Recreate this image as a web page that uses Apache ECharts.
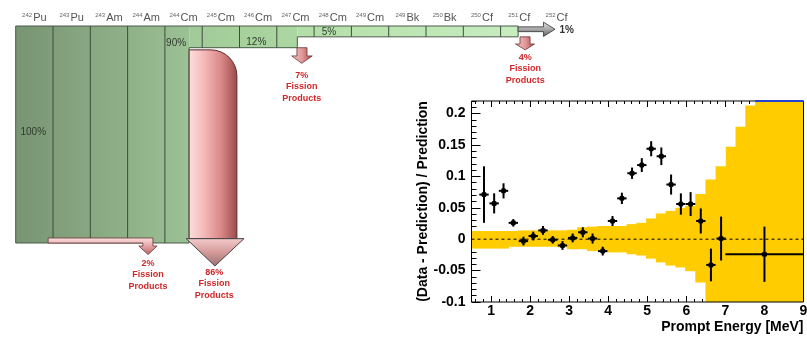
<!DOCTYPE html>
<html>
<head>
<meta charset="utf-8">
<title>Actinide chain / prompt energy residuals</title>
<script src="https://cdn.jsdelivr.net/npm/echarts@6.0.0/dist/echarts.min.js"></script>
<style>
  html, body { margin: 0; padding: 0; background: #fff; }
  #chart { width: 807px; height: 337px; }
</style>
</head>
<body>
<div id="chart"></div>
<script>
// --- left panel: transmutation chain ---
const nuclideMass = ['242', '243', '243', '244', '244', '245', '246', '247', '248', '249', '249', '250', '250', '251', '252'];
const nuclideElem = ['Pu', 'Pu', 'Am', 'Am', 'Cm', 'Cm', 'Cm', 'Cm', 'Cm', 'Cm', 'Bk', 'Bk', 'Cf', 'Cf', 'Cf'];

// flow through the chain: column span and height (% of feed)
const flowFrom = [0, 4.65, 7.55];
const flowTo = [4.65, 7.55, 13.47];
const flowPct = [100, 10, 5];

const flowLabels = ['100%', '90%', '12%', '5%'];
const fissionLabels = ['2%', '86%', '7%', '4%'];
const passLabel = '1%';

// --- right panel: (data - prediction) / prediction ---
const energy = [0.82, 1.08, 1.32, 1.57, 1.83, 2.08, 2.33, 2.58, 2.83, 3.09, 3.35, 3.60, 3.86,
  4.11, 4.35, 4.61, 4.86, 5.10, 5.36, 5.61, 5.86, 6.11, 6.37, 6.63, 6.89, 8.0];
const energyErr = [0.12, 0.12, 0.12, 0.12, 0.12, 0.12, 0.12, 0.12, 0.12, 0.12, 0.12, 0.12, 0.12,
  0.12, 0.12, 0.12, 0.12, 0.12, 0.12, 0.12, 0.12, 0.12, 0.12, 0.12, 0.12, 1.0];
const ratio = [0.071, 0.057, 0.077, 0.026, -0.003, 0.005, 0.014, -0.001, -0.010, 0.002, 0.011, 0.001, -0.019,
  0.029, 0.065, 0.105, 0.118, 0.144, 0.132, 0.087, 0.056, 0.056, 0.029, -0.041, 0.001, -0.024];
const ratioErr = [0.045, 0.016, 0.012, 0.006, 0.007, 0.007, 0.007, 0.006, 0.007, 0.007, 0.008, 0.008, 0.007,
  0.008, 0.009, 0.009, 0.011, 0.012, 0.014, 0.016, 0.017, 0.019, 0.020, 0.026, 0.035, 0.044];

// systematic band, one step per bin
const bandEdge = [0.5, 0.95, 1.2, 1.45, 1.7, 1.95, 2.2, 2.45, 2.7, 2.96, 3.22, 3.47, 3.73, 3.98, 4.23,
  4.48, 4.73, 4.98, 5.23, 5.48, 5.73, 5.98, 6.24, 6.5, 6.76, 7.02, 7.27, 7.52, 7.77, 9.0];
const bandHigh = [0.013, 0.013, 0.013, 0.013, 0.014, 0.014, 0.014, 0.014, 0.014, 0.015, 0.019, 0.020, 0.021, 0.021,
  0.021, 0.024, 0.026, 0.033, 0.041, 0.045, 0.050, 0.053, 0.072, 0.095, 0.116, 0.147, 0.179, 0.213, 0.22];
const bandLow = [-0.015, -0.015, -0.015, -0.012, -0.012, -0.012, -0.012, -0.012, -0.013, -0.016, -0.016, -0.019, -0.019, -0.021,
  -0.021, -0.024, -0.026, -0.031, -0.037, -0.042, -0.045, -0.051, -0.069, -0.1, -0.1, -0.1, -0.1, -0.1, -0.1];

const xMajor = [1, 2, 3, 4, 5, 6, 7, 8, 9];
const yMajor = [-0.1, -0.05, 0, 0.05, 0.1, 0.15, 0.2];
const xMinor = [];
for (let k = 3; k < 45; k++) if (k % 5 !== 0) xMinor.push(k / 5);
const yMinor = [];
for (let k = -10; k <= 22; k++) if (k % 5 !== 0) yMinor.push(k / 100);

const FONT = '"Liberation Sans", Arial, Helvetica, sans-serif';
const RED = '#d0282a';

// where annotations sit on the left grid (column / percent units)
const flowLabelPos = [[0.47, 49], [4.3, 7.8], [6.45, 7.4], [8.4, 2.8]];
const arrowLayout = [
  { kind: 'run', x0: 0.87, x1: 3.41, x2: 3.68, y0: 97.7, y1: 100, headY: 101.4, hx0: 3.30, hx1: 3.79, tipX: 3.55, tipY: 105.3, lx: 3.55, ly: 106.6 },
  { kind: 'big', x0: 4.65, x1: 5.93, y0: 11, headY: 98, hx0: 4.57, hx1: 6.12, tipX: 5.34, tipY: 110.6, lx: 5.32, ly: 110.8 },
  { kind: 'drop', x0: 7.54, x1: 7.81, y0: 10, headY: 13.8, hx0: 7.40, hx1: 7.95, tipX: 7.67, tipY: 17.2, lx: 7.67, ly: 20 },
  { kind: 'drop', x0: 13.52, x1: 13.79, y0: 5, headY: 8.3, hx0: 13.40, hx1: 13.91, tipX: 13.66, tipY: 11, lx: 13.66, ly: 11.8 }
];
const passLayout = { x0: 13.47, x1: 14.15, y0: 0.4, y1: 2.6, h0: -1.8, h1: 4.8, tipX: 14.46, tipY: 1.5, lx: 14.5 };
const flowShades = [['#789473', '#9cc195'], ['#a0ca97', '#acd7a2'], ['#b2dea8', '#c8edbf']];

function grad(x2, y2, colors) {
  return new echarts.graphic.LinearGradient(0, 0, x2, y2,
    colors.map((c, i) => ({ offset: i / (colors.length - 1), color: c })));
}

function renderFlow(params, api) {
  const i = params.dataIndex;
  const a = api.coord([flowFrom[i], 0]);
  const b = api.coord([flowTo[i], flowPct[i]]);
  return {
    type: 'rect',
    shape: { x: a[0], y: a[1], width: b[0] - a[0], height: b[1] - a[1] },
    style: { fill: grad(1, 0, flowShades[i]) }
  };
}

function renderOutline(params, api) {
  const n = flowPct.length;
  const pts = [api.coord([flowFrom[0], 0]), api.coord([flowTo[n - 1], 0])];
  for (let k = n - 1; k >= 0; k--) {
    pts.push(api.coord([flowTo[k], flowPct[k]]));
    pts.push(api.coord([flowFrom[k], flowPct[k]]));
  }
  const children = [{ type: 'polygon', shape: { points: pts }, style: { fill: 'none', stroke: '#4b5a48', lineWidth: 1 } }];
  for (let c = 1; c < nuclideMass.length; c++) {
    const k = flowFrom.findIndex((f, j) => c >= f && c < flowTo[j]);
    if (k < 0) continue;
    const t = api.coord([c, 0]), b = api.coord([c, flowPct[k]]);
    children.push({ type: 'line', shape: { x1: t[0], y1: t[1], x2: b[0], y2: b[1] }, style: { stroke: '#3f4c3d', lineWidth: 1 } });
  }
  flowLabels.forEach((txt, i) => {
    const p = api.coord(flowLabelPos[i]);
    children.push({
      type: 'text', x: p[0], y: p[1],
      style: { text: txt, align: 'center', verticalAlign: 'middle', fill: '#2f3a2e', font: '10px ' + FONT }
    });
  });
  return { type: 'group', children };
}

function renderFission(params, api) {
  const L = arrowLayout[params.dataIndex];
  const P = (c, p) => api.coord([c, p]);
  const children = [];
  if (L.kind === 'big') {
    const a = P(L.x0, L.y0), b = P(L.x1, L.headY);
    children.push({
      type: 'rect',
      shape: { x: a[0], y: a[1], width: b[0] - a[0], height: b[1] - a[1], r: [0, 26, 0, 0] },
      style: { fill: grad(1, 0, ['#fde0e0', '#f4b6b6', '#d98888', '#9c4848']), stroke: '#5a2c2c', lineWidth: 1 }
    });
    children.push({
      type: 'polygon',
      shape: { points: [P(L.hx0, L.headY), P(L.hx1, L.headY), P(L.tipX, L.tipY)] },
      style: { fill: grad(0, 1, ['#f4cccc', '#d49a9a', '#9a7070']), stroke: '#444', lineWidth: 1 }
    });
  } else if (L.kind === 'run') {
    children.push({
      type: 'polygon',
      shape: { points: [P(L.x0, L.y0), P(L.x2, L.y0), P(L.x2, L.headY), P(L.hx1, L.headY), P(L.tipX, L.tipY),
        P(L.hx0, L.headY), P(L.x1, L.headY), P(L.x1, L.y1), P(L.x0, L.y1)] },
      style: { fill: grad(0, 1, ['#fbe2e2', '#e3a3a3', '#b86666']), stroke: '#6b3333', lineWidth: 0.8 }
    });
  } else {
    children.push({
      type: 'polygon',
      shape: { points: [P(L.x0, L.y0), P(L.x1, L.y0), P(L.x1, L.headY), P(L.hx1, L.headY), P(L.tipX, L.tipY),
        P(L.hx0, L.headY), P(L.x0, L.headY)] },
      style: { fill: grad(1, 0, ['#f6c4c4', '#e29a9a', '#a04c4c']), stroke: '#6b3333', lineWidth: 0.8 }
    });
  }
  const lp = P(L.lx, L.ly);
  children.push({
    type: 'text', x: lp[0], y: lp[1],
    style: { text: fissionLabels[params.dataIndex] + '\nFission\nProducts', align: 'center', verticalAlign: 'top',
      fill: RED, font: 'bold 9px ' + FONT, lineHeight: 11.5 }
  });
  return { type: 'group', children };
}

function renderPass(params, api) {
  const L = passLayout;
  const P = (c, p) => api.coord([c, p]);
  const lp = P(L.lx, L.tipY);
  return {
    type: 'group',
    children: [
      {
        type: 'polygon',
        shape: { points: [P(L.x0, L.y0), P(L.x1, L.y0), P(L.x1, L.h0), P(L.tipX, L.tipY), P(L.x1, L.h1), P(L.x1, L.y1), P(L.x0, L.y1)] },
        style: { fill: grad(0, 1, ['#e4e4e4', '#a8a8a8', '#5e5e5e']), stroke: '#333', lineWidth: 0.8 }
      },
      {
        type: 'text', x: lp[0] + 3, y: lp[1] + 1,
        style: { text: passLabel, align: 'left', verticalAlign: 'middle', fill: '#333', font: 'bold 10px ' + FONT }
      }
    ]
  };
}

// one yellow step per bin, widened a hair so neighbouring steps leave no seam
function renderBand(params, api) {
  const a = api.coord([api.value(0), api.value(3)]);
  const b = api.coord([api.value(1), api.value(2)]);
  return {
    type: 'rect',
    shape: { x: a[0] - 0.4, y: a[1], width: b[0] - a[0] + 0.8, height: b[1] - a[1] },
    style: { fill: '#ffcc00' }
  };
}

function renderCross(params, api) {
  const x = api.value(0), y = api.value(1), xe = api.value(2), ye = api.value(3);
  const c = api.coord([x, y]);
  const t = api.coord([x, y + ye]), b = api.coord([x, y - ye]);
  const l = api.coord([x - xe, y]), r = api.coord([x + xe, y]);
  return {
    type: 'group',
    children: [
      { type: 'line', shape: { x1: c[0], y1: t[1], x2: c[0], y2: b[1] }, style: { stroke: '#000', lineWidth: 2 } },
      { type: 'line', shape: { x1: l[0], y1: c[1], x2: r[0], y2: c[1] }, style: { stroke: '#000', lineWidth: 2 } },
      { type: 'rect', shape: { x: c[0] - 2.5, y: c[1] - 2.5, width: 5, height: 5, r: 1.5 }, style: { fill: '#000' } }
    ]
  };
}

const tickStyle = { color: '#000', width: 1 };
const axisX = (extra) => Object.assign({
  gridIndex: 1, type: 'value', min: 0.5, max: 9,
  splitLine: { show: false }, axisLine: { show: false, onZero: false }, axisLabel: { show: false }
}, extra);
const axisY = (extra) => Object.assign({
  gridIndex: 1, type: 'value', min: -0.1, max: 0.22,
  splitLine: { show: false }, axisLine: { show: false, onZero: false }, axisLabel: { show: false }, axisTick: { show: false }
}, extra);

const chart = echarts.init(document.getElementById('chart'));
chart.setOption({
  animation: false,
  textStyle: { fontFamily: FONT },
  grid: [
    { left: 15.7, top: 26, width: 559.5, height: 217, outerBoundsMode: 'none' },
    { left: 471.5, top: 101, right: 3.5, bottom: 35, outerBoundsMode: 'none',
      show: true, borderColor: '#000', borderWidth: 1, backgroundColor: 'transparent', z: 5 }
  ],
  xAxis: [
    { gridIndex: 0, type: 'value', min: 0, max: 15, show: false },
    {
      gridIndex: 0, type: 'category', position: 'top',
      data: nuclideMass.map((m, i) => m + nuclideElem[i]),
      axisLine: { show: false }, axisTick: { show: false },
      axisLabel: {
        interval: 0, margin: 3,
        formatter: (v, i) => `{m|${nuclideMass[i]}}{e|${nuclideElem[i]}}`,
        rich: {
          m: { fontSize: 6, color: '#666', fontFamily: FONT, verticalAlign: 'top', padding: [0, 1, 0, 0] },
          e: { fontSize: 11, color: '#555', fontFamily: FONT }
        }
      }
    },
    axisX({
      position: 'bottom',
      axisTick: { show: true, inside: true, length: 6, customValues: xMajor, lineStyle: tickStyle },
      axisLabel: { show: true, customValues: xMajor, color: '#000', fontSize: 14, fontWeight: 'bold', fontFamily: FONT, margin: 2 },
      name: 'Prompt Energy [MeV]', nameLocation: 'end', nameGap: 0,
      nameTextStyle: { color: '#000', fontSize: 14, fontWeight: 'bold', fontFamily: FONT, align: 'right', verticalAlign: 'top', padding: [18, 0, 0, 0] }
    }),
    axisX({ position: 'bottom', axisTick: { show: true, inside: true, length: 3, customValues: xMinor, lineStyle: tickStyle } }),
    axisX({ position: 'top', axisTick: { show: true, inside: true, length: 6, customValues: xMajor, lineStyle: tickStyle } }),
    axisX({ position: 'top', axisTick: { show: true, inside: true, length: 3, customValues: xMinor, lineStyle: tickStyle } })
  ],
  yAxis: [
    { gridIndex: 0, type: 'value', min: 0, max: 100, inverse: true, show: false },
    axisY({
      position: 'left',
      axisTick: { show: true, inside: true, length: 9, customValues: yMajor, lineStyle: tickStyle },
      axisLabel: { show: true, customValues: yMajor, color: '#000', fontSize: 14, fontWeight: 'bold', fontFamily: FONT, margin: 6 },
      name: '(Data - Prediction) / Prediction', nameLocation: 'middle', nameGap: 40,
      nameTextStyle: { color: '#000', fontSize: 14, fontWeight: 'bold', fontFamily: FONT }
    }),
    axisY({ position: 'left', axisTick: { show: true, inside: true, length: 5, customValues: yMinor, lineStyle: tickStyle } })
  ],
  series: [
    { type: 'custom', xAxisIndex: 0, yAxisIndex: 0, silent: true, renderItem: renderFlow, data: flowPct.map((p, i) => [i, p]) },
    { type: 'custom', xAxisIndex: 0, yAxisIndex: 0, silent: true, renderItem: renderOutline, data: [[0]] },
    { type: 'custom', xAxisIndex: 0, yAxisIndex: 0, silent: true, renderItem: renderFission, data: fissionLabels.map((t, i) => [i]) },
    { type: 'custom', xAxisIndex: 0, yAxisIndex: 0, silent: true, renderItem: renderPass, data: [[0]] },
    {
      type: 'custom', xAxisIndex: 2, yAxisIndex: 1, silent: true, clip: true, renderItem: renderBand,
      data: bandHigh.map((h, i) => [bandEdge[i], bandEdge[i + 1], bandLow[i], h])
    },
    {
      type: 'line', xAxisIndex: 2, yAxisIndex: 1, silent: true, symbol: 'none',
      lineStyle: { color: '#000', width: 1, type: [3, 3] }, data: [[0.5, 0], [9, 0]]
    },
    {
      type: 'line', xAxisIndex: 2, yAxisIndex: 1, silent: true, symbol: 'none', z: 6,
      lineStyle: { color: '#2040d8', width: 2 }, data: [[bandEdge[28], 0.22], [9, 0.22]]
    },
    {
      type: 'custom', xAxisIndex: 2, yAxisIndex: 1, silent: true, clip: true, renderItem: renderCross,
      data: energy.map((e, i) => [e, ratio[i], energyErr[i], ratioErr[i]])
    }
  ]
});
</script>
</body>
</html>
